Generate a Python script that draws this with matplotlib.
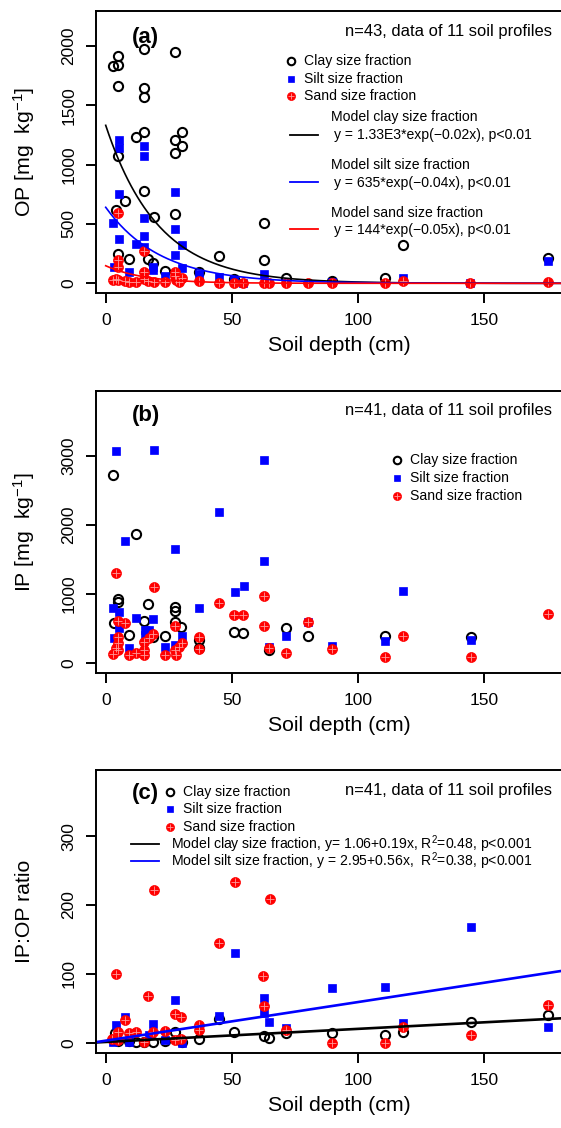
import numpy as np
import matplotlib
matplotlib.use('Agg')
import matplotlib.pyplot as plt

plt.rcParams['font.family'] = ['Liberation Sans', 'DejaVu Sans']
plt.rcParams['mathtext.fontset'] = 'custom'
plt.rcParams['mathtext.rm'] = 'Liberation Sans'
plt.rcParams['mathtext.it'] = 'Liberation Sans:italic'
plt.rcParams['mathtext.bf'] = 'Liberation Sans:bold'

# ============================================================
# DATOS
# ============================================================
# (a) OP [mg kg-1]
clay_a_x = [3.0, 5.0, 5.0, 5.0, 5.0, 4.1, 7.7, 5.0, 9.4, 12.0, 15.2, 15.2, 15.2, 15.2, 15.2,
            19.0, 16.9, 18.6, 23.5, 27.5, 27.5, 27.5, 30.2, 30.2, 27.5, 37.2, 45.1, 51.0,
            62.7, 62.7, 71.5, 110.8, 117.8, 175.4, 89.9]
clay_a_y = [1832, 1838, 1913, 1664, 1075, 617, 695, 247, 207, 1235, 1975, 1641, 1566, 1271, 780,
            555, 201, 168, 103, 1944, 1206, 1094, 1277, 1156, 583, 98, 233, 36,
            505, 196, 42, 42, 323, 210, 20]
silt_a_x = [2.8, 5.2, 5.2, 5.1, 5.1, 3.4, 9.4, 12.0, 15.2, 15.2, 15.1, 15.1, 15.1, 18.9, 18.9,
            27.5, 27.5, 27.5, 30.3, 30.3, 23.5, 37.2, 45.1, 51.0, 54.6, 62.7, 117.8, 144.6,
            175.4, 89.9]
silt_a_y = [510, 1207, 1136, 752, 373, 134, 98, 328, 1156, 1075, 552, 398, 308, 134, 112,
            766, 457, 238, 322, 126, 64, 75, 56, 28, 0, 75, 44, 0,
            185, 14]
sand_a_x = [5.0, 5.0, 5.0, 4.1, 2.8, 5.0, 7.7, 9.4, 12.0, 15.1, 15.1, 15.1, 16.9, 19.0, 23.5,
            27.5, 27.5, 27.9, 30.1, 29.2, 37.2, 45.1, 51.0, 54.6, 62.7, 64.9, 71.5, 80.4,
            89.9, 110.8, 117.8, 144.6, 175.4]
sand_a_y = [589, 196, 140, 39, 28, 28, 22, 8, 8, 274, 98, 36, 19, 8, 8,
            98, 64, 28, 42, 8, 19, 0, 0, 0, 0, 0, 5, 0,
            0, 0, 21, 6, 14]
# modelos exponenciales y = A*exp(-k x) (curvas dibujadas)
model_A = [1330, 640, 148]
model_k = [0.048, 0.046, 0.065]

# (b) IP [mg kg-1]
clay_b_x = [3.0, 12.0, 5.0, 5.0, 16.9, 27.5, 27.5, 27.5, 3.4, 15.1, 29.9, 9.4, 23.5, 18.9,
            37.2, 37.2, 51.0, 54.6, 64.9, 71.5, 80.4, 110.8, 145.0]
clay_b_y = [2725, 1867, 926, 892, 858, 820, 757, 603, 588, 612, 520, 410, 395, 385,
            337, 217, 458, 443, 192, 506, 397, 402, 385]
silt_b_x = [4.1, 19.2, 45.1, 62.8, 7.7, 27.5, 62.7, 51.3, 54.7, 2.8, 5.1, 37.2, 12.0, 18.6,
            15.6, 17.3, 15.6, 3.4, 5.1, 30.3, 23.5, 9.4, 27.5, 71.5, 64.9, 80.4, 89.9,
            110.8, 117.8, 145.0]
silt_b_y = [3073, 3087, 2185, 2943, 1770, 1654, 1480, 1036, 1123, 795, 747, 795, 660, 636,
            482, 482, 410, 361, 506, 395, 231, 217, 265, 395, 241, 602, 248,
            323, 1046, 337]
sand_b_x = [4.1, 19.0, 5.0, 7.7, 5.0, 5.0, 4.1, 3.0, 5.0, 9.4, 12.0, 15.1, 15.1, 15.1, 17.3,
            18.6, 23.5, 27.5, 27.5, 27.9, 29.2, 30.1, 37.2, 37.2, 45.1, 51.0, 54.6, 62.7,
            62.7, 64.9, 71.5, 80.4, 89.9, 110.8, 117.8, 145.0, 175.4]
sand_b_y = [1302, 1109, 611, 578, 385, 289, 216, 130, 192, 120, 144, 120, 192, 313, 361,
            419, 120, 540, 192, 120, 241, 289, 385, 202, 868, 699, 699, 974,
            540, 216, 154, 602, 200, 96, 397, 96, 708]

# (c) IP:OP ratio
clay_c_x = [3.8, 27.5, 37.2, 51.0, 62.7, 64.9, 71.5, 45.1, 18.6, 12.0, 89.9, 110.8, 117.8,
            145.0, 175.4, 5.0, 9.4, 15.1, 23.5, 30.2]
clay_c_y = [14, 15, 5, 16, 10, 7, 14, 35, 1.5, 1.5, 14, 11, 15,
            30, 40, 3, 2, 1, 3, 1]
silt_c_x = [7.7, 4.1, 27.5, 18.9, 45.1, 62.7, 62.7, 64.9, 71.5, 9.4, 2.8, 23.5, 30.3, 17.3,
            51.3, 89.9, 110.8, 117.8, 145.0, 175.4]
silt_c_y = [38, 26, 62, 27, 39, 65, 43, 30, 22, 1.5, 1.5, 4, 0, 11,
            130, 80, 81, 28, 168, 23]
sand_c_x = [4.1, 16.9, 7.7, 4.75, 4.75, 2.5, 9.4, 12.0, 15.1, 18.6, 23.5, 27.5, 29.9, 27.5,
            29.9, 37.2, 37.2, 62.7, 71.5, 19.2, 51.3, 65.2, 45.1, 62.6, 89.9, 110.8,
            117.8, 145.0, 175.4]
sand_c_y = [100, 68, 33, 16, 4, 6, 14, 15, 1.5, 16, 17, 41, 38, 4,
            5, 26, 19, 54, 18, 222, 233, 209, 145, 97, 0, 0,
            23, 11, 55]
# regresiones lineales (intercepto, pendiente)
lin_clay = (1.06, 0.19)
lin_silt = (2.95, 0.56)

xticks = [0, 50, 100, 150]
yticks_a = [0, 500, 1000, 1500, 2000]
yticks_b = [0, 1000, 2000, 3000]
yticks_c = [0, 100, 200, 300]

# ============================================================
# LAYOUT (en pixeles de la imagen 561x1128)
# ============================================================
W, H = 561, 1128
AX_L, AX_R = 96, 582
XLIM = (-3.85, 189.0)
panels = {'a': (10.7, 293.3, (-84, 2295)),
          'b': (390.7, 673.3, (-145, 3945)),
          'c': (770.0, 1053.3, (-15.4, 396))}

fig = plt.figure(figsize=(W / 100, H / 100), dpi=100)

def make_ax(key, yticks, ylabel):
    top, bot, ylim = panels[key]
    ax = fig.add_axes([AX_L / W, 1 - bot / H, (AX_R - AX_L) / W, (bot - top) / H])
    ax.set_xlim(*XLIM)
    ax.set_ylim(*ylim)
    ax.set_xticks(xticks)
    ax.set_yticks(yticks)
    ax.tick_params(direction='out', length=7, width=1.4, labelsize=12.5, pad=7)
    ax.tick_params(axis='y', labelrotation=90)
    for lab in ax.get_yticklabels():
        lab.set_va('center')
    for sp in ax.spines.values():
        sp.set_linewidth(1.4)
    ax.set_xlabel('Soil depth (cm)', fontsize=15.3, labelpad=6)
    ax.text(-0.148, 0.5, ylabel, transform=ax.transAxes, rotation=90,
            ha='center', va='center', fontsize=15.3)
    return ax

def pos(key, px, py):
    top, bot, _ = panels[key]
    return (px - AX_L) / (AX_R - AX_L), (bot - py) / (bot - top)

def clay(ax, x, y, ms=6.6, **kw):
    ax.plot(x, y, 'o', ls='none', ms=ms, mfc='none', mec='black', mew=1.5, **kw)

def silt(ax, x, y, ms=6.0, **kw):
    ax.plot(x, y, 's', ls='none', ms=ms, mfc='#0000FF', mec='#0000FF', mew=0.5, **kw)

def sand(ax, x, y, ms=7.2, **kw):
    ax.plot(x, y, 'o', ls='none', ms=ms, mfc='#FF0000', mec='#FF0000', mew=0.5, **kw)
    ax.plot(x, y, '+', ls='none', ms=ms * 0.75, mec='#FF9A9A', mew=0.6, **kw)

def legend_points(ax, key, mx, tx, ys, fs=10.1):
    labels = ['Clay size fraction', 'Silt size fraction', 'Sand size fraction']
    funcs = [clay, silt, sand]
    sizes = [5.4, 4.8, 5.8]
    for f, lab, yy, s in zip(funcs, labels, ys, sizes):
        px, py = pos(key, mx, yy)
        f(ax, [px], [py], ms=s, transform=ax.transAxes, clip_on=False)
        ax.text(*pos(key, tx, yy), lab, transform=ax.transAxes, ha='left',
                va='center', fontsize=fs)

def legend_line(ax, key, x0, x1, yy, color, lw):
    p0 = pos(key, x0, yy)
    p1 = pos(key, x1, yy)
    ax.plot([p0[0], p1[0]], [p0[1], p1[1]], color=color, lw=lw,
            transform=ax.transAxes, clip_on=False)

# ============================================================
# PANEL (a)
# ============================================================
ax = make_ax('a', yticks_a, 'OP [mg  kg$^{-1}$]')
clay(ax, clay_a_x, clay_a_y)
silt(ax, silt_a_x, silt_a_y)
sand(ax, sand_a_x, sand_a_y)
xx = np.linspace(0, XLIM[1], 300)
for A, k, c in zip(model_A, model_k, ['black', '#0000FF', '#FF0000']):
    ax.plot(xx, A * np.exp(-k * xx), color=c, lw=1.2)

ax.text(*pos('a', 132, 37), '(a)', transform=ax.transAxes, fontsize=16,
        fontweight='bold', ha='left', va='center')
ax.text(*pos('a', 552, 31.7), 'n=43, data of 11 soil profiles', transform=ax.transAxes,
        fontsize=11.9, ha='right', va='center')
legend_points(ax, 'a', 291, 304, [61, 79, 96.3])
model_txt = [('Model clay size fraction', 'y = 1.33E3*exp(\u22120.02x), p<0.01', 'black', 117.3, 135.5),
             ('Model silt size fraction', 'y = 635*exp(\u22120.04x), p<0.01', '#0000FF', 165.3, 183),
             ('Model sand size fraction', 'y = 144*exp(\u22120.05x), p<0.01', '#FF0000', 212.7, 230)]
for l1, l2, c, y1, y2 in model_txt:
    legend_line(ax, 'a', 290, 318, y2 - 1, c, 1.3)
    ax.text(*pos('a', 330.7, y1), l1, transform=ax.transAxes, fontsize=10.1, va='center')
    ax.text(*pos('a', 334.3, y2), l2, transform=ax.transAxes, fontsize=10.1, va='center')

# ============================================================
# PANEL (b)
# ============================================================
ax = make_ax('b', yticks_b, 'IP [mg  kg$^{-1}$]')
clay(ax, clay_b_x, clay_b_y)
silt(ax, silt_b_x, silt_b_y)
sand(ax, sand_b_x, sand_b_y)
ax.text(*pos('b', 132, 415), '(b)', transform=ax.transAxes, fontsize=16,
        fontweight='bold', ha='left', va='center')
ax.text(*pos('b', 552, 410.7), 'n=41, data of 11 soil profiles', transform=ax.transAxes,
        fontsize=11.9, ha='right', va='center')
legend_points(ax, 'b', 396.7, 410, [460, 478.3, 496])

# ============================================================
# PANEL (c)
# ============================================================
ax = make_ax('c', yticks_c, 'IP:OP ratio')
clay(ax, clay_c_x, clay_c_y)
silt(ax, silt_c_x, silt_c_y)
sand(ax, sand_c_x, sand_c_y)
ax.axline((0, lin_clay[0]), slope=lin_clay[1], color='black', lw=1.9)
ax.axline((0, lin_silt[0]), slope=lin_silt[1], color='#0000FF', lw=1.9)
ax.text(*pos('c', 132, 794), '(c)', transform=ax.transAxes, fontsize=16,
        fontweight='bold', ha='left', va='center')
ax.text(*pos('c', 552, 790.7), 'n=41, data of 11 soil profiles', transform=ax.transAxes,
        fontsize=11.9, ha='right', va='center')
legend_points(ax, 'c', 170, 182.7, [791.7, 809, 826.7])
legend_line(ax, 'c', 131, 159.3, 844.3, 'black', 1.3)
legend_line(ax, 'c', 131, 159.3, 861, '#0000FF', 1.3)
ax.text(*pos('c', 171, 844.3), 'Model clay size fraction, y= 1.06+0.19x, R$^2$=0.48, p<0.001',
        transform=ax.transAxes, fontsize=10.1, va='center')
ax.text(*pos('c', 171, 861.5), 'Model silt size fraction, y = 2.95+0.56x,  R$^2$=0.38, p<0.001',
        transform=ax.transAxes, fontsize=10.1, va='center')

plt.savefig('out.png', dpi=100)
